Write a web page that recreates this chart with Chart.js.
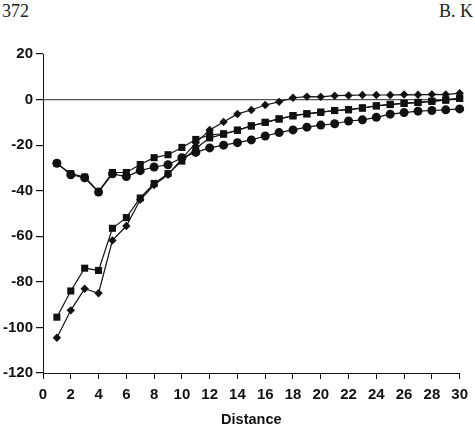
<!DOCTYPE html>
<html>
<head>
<meta charset="utf-8">
<script src="https://cdn.jsdelivr.net/npm/chart.js@4/dist/chart.umd.min.js"></script>
<style>
  html, body { margin: 0; padding: 0; background: #fff; }
  body { width: 475px; height: 432px; position: relative; overflow: hidden; }
  #chart { position: absolute; left: 0; top: 0; }
  .head { position: absolute; top: 1px; font-family: "Liberation Serif", "DejaVu Serif", serif; font-size: 18px; color: #222; }
</style>
</head>
<body>
<div class="head" style="left:2px">372</div>
<div class="head" style="right:2px">B. K</div>
<canvas id="chart" width="475" height="432"></canvas>
<script>
// distance 1..30
const distance = Array.from({ length: 30 }, (_, i) => i + 1);

// upper group, circles
const circlesUpper = [-28, -33, -34.3, -40.6, -32.6, -33.8, -31.2, -29.6, -28.6, -25.5,
  -23.2, -21.2, -20, -18.9, -17.7, -16, -14.5, -13.3, -12.1, -11.2,
  -10.6, -9.4, -8.9, -7.8, -6.4, -5.7, -5.1, -4.8, -4.5, -4.1];
// upper group, squares
const squaresUpper = [-28, -32.5, -34, -40.4, -32, -32, -28.5, -25.5, -24.2, -21,
  -17.5, -15.5, -15, -13.5, -11.6, -10, -8.5, -7.2, -6.3, -5.6,
  -4.8, -4.5, -3.8, -2.8, -2.2, -1.7, -1.3, -0.8, -0.3, 0.5];
// lower group, squares
const squaresLower = [-95.5, -84, -74, -75, -56.5, -51.8, -43.2, -36.8, -32.5, -27,
  -21.5, -16.8, -15.2, -13.4, -11.5, -10, -8.5, -7, -6.2, -5.5,
  -4.8, -4.4, -3.6, -2.7, -2.1, -1.6, -1.2, -0.7, -0.1, 0.6];
// lower group, diamonds
const diamondsLower = [-104.5, -92.5, -83, -85, -61.8, -55.5, -44, -37.5, -33, -26,
  -19, -13.3, -9.8, -6.3, -4.6, -2.4, -1, 0.8, 1.3, 1.2,
  1.7, 1.8, 2, 2, 2, 2.2, 2.1, 2.3, 2.2, 2.8];

const xTicks = { min: 0, max: 30, step: 2 };
const yTicks = { min: -120, max: 20, step: 20 };

const ink = '#111';
const tickFont = { family: '"Liberation Sans", Arial, sans-serif', size: 15, weight: 'bold' };
const titleFont = { family: '"Liberation Sans", Arial, sans-serif', size: 14.5, weight: 'bold' };

function series(values, style, radius) {
  return {
    data: values.map((v, i) => ({ x: distance[i], y: v })),
    borderColor: ink,
    backgroundColor: ink,
    borderWidth: 1.2,
    pointStyle: style,
    pointRadius: radius,
    pointBorderWidth: 0,
    pointBackgroundColor: ink,
    tension: 0,
    clip: false
  };
}

new Chart(document.getElementById('chart'), {
  type: 'line',
  data: {
    datasets: [
      series(circlesUpper, 'circle', 4.5),
      series(squaresUpper, 'rect', 5),
      series(squaresLower, 'rect', 5),
      series(diamondsLower, 'rectRot', 4.2)
    ]
  },
  options: {
    responsive: false,
    animation: false,
    devicePixelRatio: 1,
    layout: { padding: { left: 0, top: 54, right: 13, bottom: 0 } },
    plugins: { legend: { display: false }, tooltip: { enabled: false } },
    scales: {
      x: {
        type: 'linear',
        min: xTicks.min,
        max: xTicks.max,
        ticks: { stepSize: xTicks.step, color: ink, font: tickFont, padding: 7, maxRotation: 0 },
        grid: { drawOnChartArea: false, tickLength: 6, tickColor: ink },
        border: { display: true, color: ink, width: 1 },
        title: { display: true, text: 'Distance', color: ink, font: titleFont, padding: { top: 0, bottom: 3 } },
        afterFit: axis => { axis.height = 59; }
      },
      y: {
        min: yTicks.min,
        max: yTicks.max,
        ticks: { stepSize: yTicks.step, color: ink, font: tickFont, padding: 3 },
        grid: {
          color: ctx => (ctx.tick && ctx.tick.value === 0 ? '#555' : 'rgba(0,0,0,0)'),
          lineWidth: 1.2,
          tickLength: 7,
          tickColor: ink
        },
        border: { display: true, color: ink, width: 1 },
        afterFit: axis => { axis.width = 43; }
      }
    }
  }
});
</script>
</body>
</html>
